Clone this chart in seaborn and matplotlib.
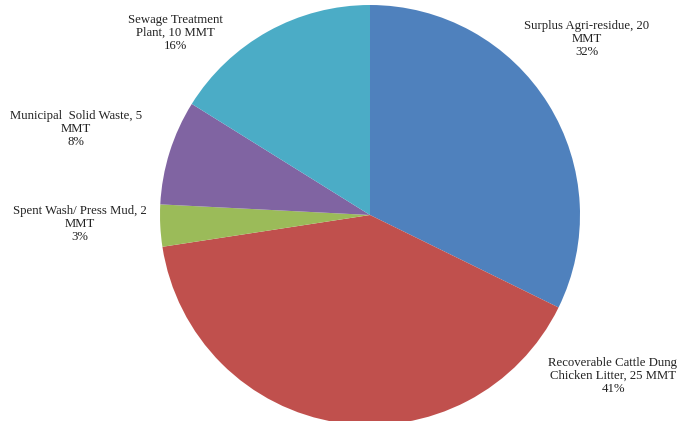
import matplotlib
matplotlib.use("Agg")
import matplotlib.pyplot as plt
import seaborn as sns

sns.set_theme(style="white")
plt.rcParams['font.family'] = ['Liberation Serif', 'DejaVu Serif']

categories = ["Surplus Agri-residue", "Recoverable Cattle Dung\nChicken Litter",
              "Spent Wash/ Press Mud", "Municipal  Solid Waste", "Sewage Treatment\nPlant"]
values = [20, 25, 2, 5, 10]
pct_labels = ["32%", "41%", "3%", "8%", "16%"]
label_texts = [
    "Surplus Agri-residue, 20\nMMT\n32%",
    "Recoverable Cattle Dung\nChicken Litter, 25 MMT\n41%",
    "Spent Wash/ Press Mud, 2\nMMT\n3%",
    "Municipal  Solid Waste, 5\nMMT\n8%",
    "Sewage Treatment\nPlant, 10 MMT\n16%",
]
colors = ["#4F81BD", "#C0504D", "#9BBB59", "#8064A2", "#4BACC6"]

fig = plt.figure(figsize=(6.84, 4.21), dpi=100)
ax = fig.add_axes([0, 0, 1, 1])
ax.pie(values, colors=colors, startangle=90, counterclock=False,
       center=(370, 206), radius=210, frame=True,
       wedgeprops=dict(linewidth=0))
ax.set_xlim(0, 684)
ax.set_ylim(0, 421)
ax.set_aspect('equal')
ax.axis('off')

label_pos = [(587, 382), (613, 45), (80, 197), (76, 292), (175, 388)]
for (x, y), t in zip(label_pos, label_texts):
    ax.text(x, y, t, ha='center', va='center', fontsize=9.2, color='#222222',
            linespacing=1.15)

fig.savefig("out.png", dpi=100)
